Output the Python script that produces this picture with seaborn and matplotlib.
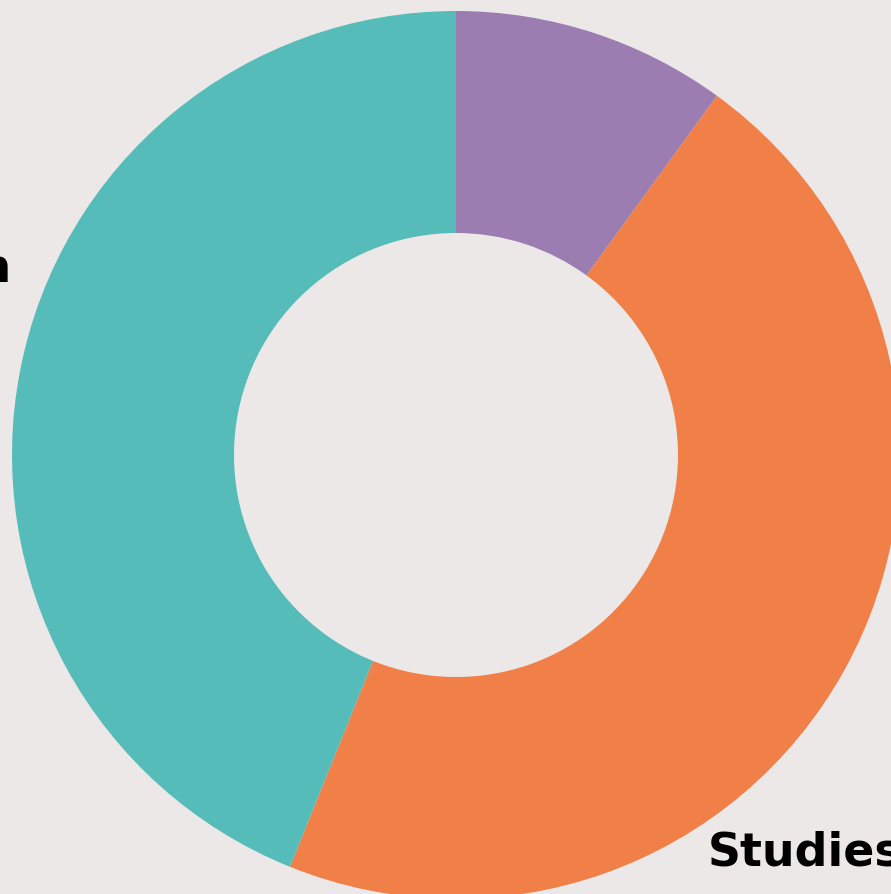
import matplotlib
matplotlib.use("Agg")
import matplotlib.pyplot as plt
import seaborn as sns

categories = ["Other", "Studies", "Education"]
values = [10.0, 46.1, 43.9]
colors = ["#9B7DB2", "#F08048", "#56BCB9"]

sns.set_theme(style="white")
plt.rcParams['font.family'] = ['DejaVu Sans']
bg = "#ECE8E8"

W, H = 891, 895
fig = plt.figure(figsize=(W / 100, H / 100), dpi=100, facecolor=bg)
cx, cy, r = 456, 456, 444
ax = fig.add_axes([(cx - r) / W, (H - cy - r) / H, 2 * r / W, 2 * r / H])
ax.set_facecolor(bg)
ax.pie(values, colors=colors, startangle=90, counterclock=False, radius=1,
       wedgeprops=dict(width=0.5, linewidth=0))
ax.set_xlim(-1, 1)
ax.set_ylim(-1, 1)
ax.set_aspect("equal")
ax.axis("off")

fig.text(708 / W, (H - 866) / H, categories[1], ha="left", va="baseline",
         fontsize=33, fontweight="bold", color="black")
fig.text(12 / W, (H - 282) / H, categories[2], ha="right", va="baseline",
         fontsize=33, fontweight="bold", color="black")

fig.savefig("out.png", dpi=100, facecolor=bg)
